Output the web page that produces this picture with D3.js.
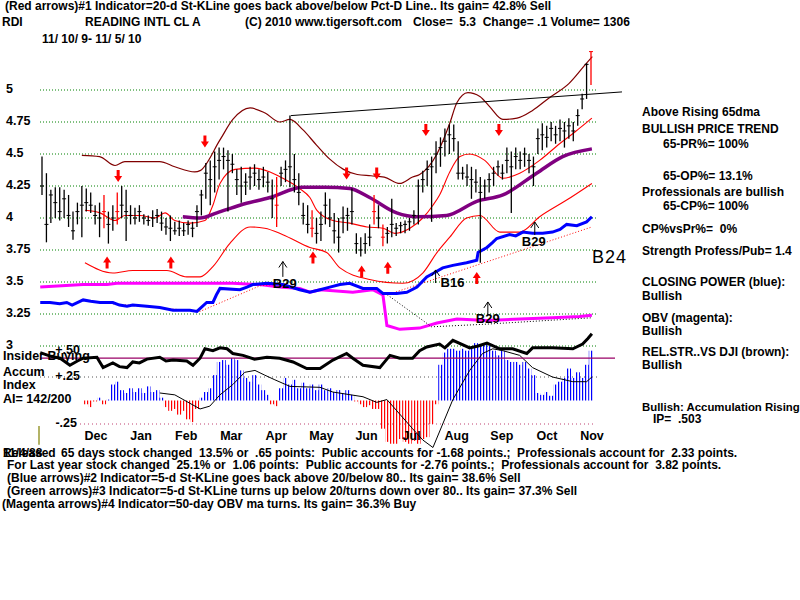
<!DOCTYPE html>
<html lang="en">
<head>
<meta charset="UTF-8">
<title>RDI - Reading Intl CL A</title>
<script src="https://d3js.org/d3.v7.min.js"></script>
<style>
  body { margin: 0; background: #fff; }
  svg text { font-family: "Liberation Sans", Arial, sans-serif; font-weight: bold; font-size: 12px; fill: #000; white-space: pre; }
</style>
</head>
<body>
<svg id="chart" width="800" height="600"></svg>
<script>
// ---- price bars (one bar every ~2 trading days, 11/10/09 - 11/5/10) ----
const barHigh = [
  4.48, 4.35, 4.22, 4.24, 4.24, 4.22, 4.18, 4.05, 4.12, 4.25,
  4.23, 4.20, 4.10, 4.12, 4.18, 4.05, 4.10, 4.20, 4.25, 4.22,
  4.10, 4.08, 4.10, 4.03, 4.02, 4.06, 4.07, 4.05, 4.00, 4.02,
  3.97, 3.98, 3.96, 3.98, 3.97, 4.10, 4.22, 4.43, 4.45, 4.52,
  4.55, 4.55, 4.53, 4.50, 4.38, 4.40, 4.35, 4.40, 4.42, 4.38,
  4.40, 4.36, 4.30, 4.32, 4.40, 4.45, 4.80, 4.50, 4.35, 4.12,
  4.10, 4.06, 4.00, 4.05, 4.20, 4.15, 4.04, 4.00, 4.09, 4.08,
  4.23, 3.88, 3.85, 3.88, 3.95, 4.18, 4.10, 3.95, 3.93, 4.15,
  3.96, 3.97, 3.98, 4.00, 4.06, 4.30, 4.37, 4.45, 4.48, 4.60,
  4.63, 4.70, 4.73, 4.73, 4.60, 4.40, 4.42, 4.40, 4.38, 4.32,
  4.30, 4.35, 4.40, 4.45, 4.42, 4.55, 4.52, 4.55, 4.52, 4.55,
  4.50, 4.48, 4.70, 4.74, 4.72, 4.75, 4.72, 4.77, 4.75, 4.78,
  4.75, 4.85, 4.97, 5.21, 5.30
];
const barLow = [
  4.18, 3.81, 3.96, 4.00, 3.98, 4.00, 3.93, 3.83, 3.95, 3.85,
  4.05, 4.04, 3.95, 3.85, 3.92, 3.80, 3.90, 3.95, 4.00, 3.82,
  3.95, 3.95, 3.97, 3.95, 3.94, 3.93, 3.96, 3.90, 3.87, 3.82,
  3.87, 3.86, 3.86, 3.87, 3.85, 3.93, 4.02, 4.15, 4.10, 4.20,
  4.30, 4.38, 4.05, 4.35, 4.18, 4.12, 4.18, 4.22, 4.25, 4.22,
  4.24, 4.20, 4.00, 3.93, 4.25, 4.28, 4.24, 4.20, 4.10, 3.95,
  3.88, 3.85, 3.80, 3.82, 3.95, 3.93, 3.80, 3.73, 3.88, 3.90,
  3.95, 3.72, 3.70, 3.72, 3.78, 3.95, 3.92, 3.78, 3.80, 3.85,
  3.86, 3.88, 3.88, 3.90, 3.95, 3.95, 4.20, 4.25, 3.97, 4.35,
  4.40, 4.48, 4.50, 4.52, 4.30, 4.30, 4.25, 4.15, 4.20, 3.65,
  4.15, 4.20, 4.25, 4.33, 4.30, 4.35, 4.04, 4.38, 4.38, 4.40,
  4.35, 4.25, 4.50, 4.53, 4.55, 4.60, 4.58, 4.60, 4.55, 4.62,
  4.60, 4.72, 4.85, 4.93, 5.04
];
const barClose = [
  4.25, 3.95, 4.18, 4.12, 4.05, 4.15, 4.02, 3.90, 4.05, 4.10,
  4.12, 4.10, 4.02, 4.00, 4.05, 3.95, 4.00, 4.05, 4.10, 4.05,
  4.02, 4.00, 4.05, 4.00, 3.98, 4.00, 4.02, 3.96, 3.93, 3.92,
  3.90, 3.92, 3.90, 3.95, 3.92, 4.05, 4.18, 4.35, 4.30, 4.40,
  4.45, 4.48, 4.45, 4.42, 4.30, 4.25, 4.28, 4.32, 4.35, 4.30,
  4.32, 4.28, 4.15, 4.10, 4.35, 4.38, 4.40, 4.30, 4.20, 4.02,
  3.95, 3.92, 3.88, 3.95, 4.10, 4.00, 3.90, 3.85, 4.00, 4.02,
  4.05, 3.80, 3.75, 3.80, 3.85, 4.05, 4.00, 3.85, 3.88, 3.95,
  3.92, 3.94, 3.95, 3.97, 4.02, 4.25, 4.30, 4.38, 4.40, 4.50,
  4.55, 4.60, 4.65, 4.62, 4.35, 4.35, 4.32, 4.30, 4.28, 4.20,
  4.25, 4.30, 4.35, 4.40, 4.35, 4.45, 4.40, 4.48, 4.45, 4.50,
  4.45, 4.40, 4.62, 4.65, 4.63, 4.70, 4.65, 4.70, 4.68, 4.72,
  4.68, 4.80, 4.93, 5.20, 5.30
];
const redBars = [14, 17, 53, 61, 75, 77, 124];

// ---- accumulation index histogram (null = not yet computed) ----
const aiValues = [
  null, null, null, null, null, null, null, null, null, null,
  -0.04, -0.07, -0.01, 0.03, -0.04, 0.01, 0.17, 0.20, 0.11, 0.08,
  0.13, 0.09, 0.13, 0.08, 0.15, 0.09, 0.11, 0.03, -0.07, -0.11,
  -0.09, -0.15, -0.11, -0.20, -0.23, -0.09, 0.03, 0.09, 0.13, 0.27,
  0.41, 0.43, 0.38, 0.45, 0.43, 0.32, 0.24, 0.20, 0.27, 0.17,
  0.11, 0.06, -0.04, -0.06, 0.13, 0.24, 0.17, 0.22, 0.13, 0.19,
  0.13, 0.17, 0.11, 0.17, 0.11, 0.13, 0.09, 0.11, 0.08, 0.11,
  0.06, -0.01, -0.04, -0.07, -0.05, -0.09, -0.09, -0.30, -0.44, -0.46,
  -0.46, -0.41, -0.44, -0.46, -0.43, -0.46, -0.41, -0.39, -0.25, -0.04,
  0.38, 0.51, 0.55, 0.55, 0.53, 0.55, 0.53, 0.58, 0.61, 0.58,
  0.61, 0.58, 0.53, 0.48, 0.53, 0.43, 0.41, 0.41, 0.38, 0.41,
  0.34, 0.27, 0.08, 0.06, 0.09, 0.05, 0.17, 0.20, 0.24, 0.34,
  0.24, 0.30, 0.24, 0.38, 0.53
];

const priceTicks = [5, 4.75, 4.5, 4.25, 4, 3.75, 3.5, 3.25, 3];
const aiTicks = [0.5, 0.25, -0.25];
const aiTickLabels = ['+.50', '+.25', '-.25'];
const monthLabels = ['Dec', 'Jan', 'Feb', 'Mar', 'Apr', 'May', 'Jun', 'Jul', 'Aug', 'Sep', 'Oct', 'Nov'];

// ---- overlay lines: [bar index, value] ----
const bandUpper = [[9, 4.49], [13, 4.48], [16.5, 4.41], [18.7, 4.44], [26.6, 4.44], [30, 4.40], [34.5, 4.36],
  [35.7, 4.37], [40.2, 4.61], [43.1, 4.77], [47, 4.86], [50.4, 4.82], [53.7, 4.75], [56, 4.77], [58.9, 4.69],
  [62, 4.57], [65, 4.46], [68.1, 4.38], [71.2, 4.34], [74.3, 4.33], [77.3, 4.32], [80.8, 4.27], [83.7, 4.32],
  [85.3, 4.34], [89.2, 4.50], [92.1, 4.74], [93.7, 4.90], [96.2, 4.98], [98.9, 4.95], [101.1, 4.87], [104.1, 4.77],
  [107.3, 4.78], [110.8, 4.84], [114.6, 4.94], [119, 5.05], [123, 5.21], [124.3, 5.26]];
const bandMid = [[9.7, 4.06], [13.1, 4.04], [16.5, 3.98], [18.7, 4.02], [22.1, 4.02], [25.5, 4.0], [27.8, 4.04],
  [30, 3.98], [33.4, 3.96], [36.8, 3.98], [38.6, 4.10], [40.2, 4.27], [43.6, 4.38], [48.1, 4.39], [51.5, 4.36],
  [54.4, 4.31], [58.2, 4.23], [60.5, 4.16], [62.1, 4.06], [65.7, 3.98], [69.5, 3.96], [73.4, 3.93], [77, 3.92],
  [79.7, 3.88], [83.1, 3.92], [86, 4.0], [88.3, 4.10], [89.8, 4.18], [92.1, 4.36], [94.4, 4.48], [96.6, 4.50],
  [100, 4.45], [104.1, 4.31], [107.9, 4.35], [112.4, 4.45], [116.9, 4.58], [120.3, 4.67], [124.2, 4.78]];
const bandLower = [[9.7, 3.65], [16, 3.57], [20.5, 3.59], [28.2, 3.59], [32.7, 3.54], [35.7, 3.54], [38.6, 3.62],
  [42.4, 3.80], [47, 3.93], [50.3, 3.92], [54.4, 3.87], [60.5, 3.77], [64.3, 3.73], [67.3, 3.61], [74, 3.52],
  [81.5, 3.49], [86, 3.57], [89.2, 3.73], [92.1, 3.85], [95.9, 4.0], [98.9, 4.02], [103.4, 3.89], [107.9, 3.89],
  [112.4, 4.01], [118.5, 4.14], [124.2, 4.27]];
const ma65 = [[31.8, 4.01], [35.7, 4.0], [39.5, 4.04], [44.7, 4.10], [51.5, 4.16], [58.9, 4.24], [64, 4.24],
  [69.5, 4.23], [74, 4.16], [80.1, 4.04], [84.7, 4.01], [91.4, 4.02], [98.2, 4.13], [104.1, 4.18], [111.7, 4.35],
  [117.6, 4.48], [124.2, 4.54]];
const closingPower = [[-0.4, 3.34], [1.8, 3.34], [4, 3.33], [5.6, 3.34], [6.8, 3.32], [9.3, 3.36], [11, 3.35],
  [13.1, 3.34], [16, 3.34], [17.5, 3.32], [19.2, 3.31], [20.5, 3.32], [23.7, 3.31], [26.6, 3.30], [29.6, 3.28],
  [33.4, 3.28], [35, 3.27], [37.2, 3.34], [38.6, 3.34], [39.4, 3.40], [40.2, 3.45], [44.7, 3.44], [46.3, 3.46],
  [47.6, 3.48], [50.8, 3.49], [54.4, 3.48], [58.2, 3.44], [60.5, 3.42], [62.8, 3.44], [65, 3.46], [67.3, 3.48],
  [69.5, 3.49], [72.5, 3.45], [75.6, 3.45], [77, 3.41], [80.1, 3.41], [82.4, 3.42], [84.7, 3.46], [86.9, 3.54],
  [88.5, 3.57], [90.5, 3.61], [92.8, 3.63], [95.9, 3.65], [98.2, 3.67], [98.5, 3.73], [100.5, 3.77], [101.8, 3.81],
  [102.7, 3.84], [105.6, 3.87], [107, 3.86], [108.6, 3.89], [110.8, 3.88], [113.1, 3.88], [115.3, 3.89],
  [117, 3.91], [118.5, 3.95], [120.8, 3.94], [123, 3.97], [124.2, 4.01]];
const obv = [[-0.4, 3.46], [9.3, 3.48], [14.7, 3.48], [16.9, 3.49], [28.2, 3.49], [35.7, 3.49], [43.1, 3.49],
  [49.2, 3.48], [53.7, 3.46], [58.2, 3.45], [60.5, 3.42], [62.8, 3.44], [70.2, 3.42], [74.7, 3.44], [77, 3.40],
  [77.9, 3.16], [80.8, 3.13], [85.3, 3.14], [89.2, 3.18], [93.7, 3.21], [100.5, 3.20], [108, 3.21],
  [115.3, 3.22], [121.4, 3.23], [124.2, 3.24]];
const cpTrendA = [[16, 3.33], [35.7, 3.27], [49.2, 3.47], [56, 3.49]];
const cpTrendB = [[78, 3.40], [124.2, 3.93]];
const obvTrend = [[78, 3.40], [88, 3.15], [100, 3.17], [124, 3.22]];
const resistance = [[56.2, 4.80], [131, 4.985]];

// ---- lower panel lines ----
const relStr = [[-0.4, 0.51], [2, 0.47], [4.1, 0.45], [6.3, 0.375], [8, 0.42], [9.3, 0.45], [12.4, 0.46],
  [13.8, 0.35], [16, 0.40], [17.5, 0.36], [19.2, 0.35], [20.5, 0.41], [22, 0.40], [23.7, 0.44], [26.6, 0.46],
  [28, 0.42], [29.6, 0.43], [32.7, 0.42], [34.1, 0.375], [35.7, 0.45], [36.8, 0.55], [38.6, 0.53], [40.2, 0.56],
  [41.8, 0.55], [43.1, 0.50], [45.4, 0.48], [48, 0.44], [50.8, 0.46], [53.7, 0.45], [56.7, 0.41], [59.8, 0.34],
  [62.8, 0.34], [65.7, 0.43], [68.8, 0.50], [70.2, 0.45], [72.5, 0.375], [76.3, 0.35], [78.6, 0.48], [80.8, 0.45],
  [83.7, 0.45], [85.3, 0.53], [86.9, 0.57], [89.8, 0.60], [91, 0.56], [92.8, 0.64], [96.6, 0.56], [98.5, 0.58],
  [100.5, 0.61], [103.4, 0.55], [106.3, 0.55], [109.5, 0.50], [110.8, 0.56], [115.3, 0.56], [119.9, 0.55],
  [122.1, 0.60], [123.3, 0.66], [124.2, 0.71]];
const aiAverage = [[26.6, 0.08], [30, 0.06], [35.7, -0.09], [37.9, -0.06], [40.2, 0.06], [43.1, 0.17], [45.8, 0.30],
  [48.1, 0.32], [50.3, 0.27], [52.6, 0.22], [56, 0.15], [62.8, 0.14], [65.7, 0.09], [72.5, 0.04], [75.6, -0.02],
  [77.9, 0.01], [83.7, -0.30], [86, -0.42], [88.3, -0.50], [92.8, 0.01], [96.6, 0.32], [99.5, 0.50], [101.8, 0.55],
  [104.1, 0.53], [107.9, 0.48], [110.8, 0.35], [115.3, 0.25], [119.9, 0.20], [123, 0.20], [124.2, 0.25]];
const insiderLevel = 0.45;

// ---- signals ----
const sellArrows = [[17.2, 4.32], [36.8, 4.59], [68.8, 4.34], [75.6, 4.34], [86.7, 4.68], [103.2, 4.68]];
const buyArrows = [[14.7, 3.66], [29.1, 3.66], [61.2, 3.70], [72.2, 3.59], [78.1, 3.62], [98.2, 3.54]];
const bSignals = [
  { i: 54.4, tip: 3.66, base: 3.54, label: 'B29', at: 3.477 },
  { i: 88.9, tip: 3.594, base: 3.492, label: 'B16', at: 3.484 },
  { i: 100.7, tip: 3.344, base: 3.242, label: 'B29', at: 3.203 },
  { i: 111.3, tip: 3.969, base: 3.867, label: 'B29', at: 3.805 }
];
const bSignalOffsets = [-10, 5, -12, -13];

// ---- texts ----
const headerLine = '(Red arrows)#1 Indicator=20-d St-KLine goes back above/below Pct-D Line.. Its gain= 42.8% Sell';
const headerParts = ['RDI', 'READING INTL CL A', '(C) 2010 www.tigersoft.com', 'Close=  5.3  Change= .1 Volume= 1306'];
const dateRange = '11/ 10/ 9- 11/ 5/ 10';
const statusLines = ['Above Rising 65dma', 'BULLISH PRICE TREND', '65-PR%= 100%', '65-OP%= 13.1%',
  'Professionals are bullish', '65-CP%= 100%', 'CP%vsPr%=  0%', 'Strength Profess/Pub= 1.4',
  'CLOSING POWER (blue):', 'Bullish', 'OBV (magenta):', 'Bullish', 'REL.STR..VS DJI (brown):', 'Bullish',
  'Bullish: Accumulation Rising', 'IP=  .503'];
const aiLabels = ['Insider Buying', 'Accum', 'Index', 'AI= 142/200'];
const footerLines = [
  '65 days stock changed  13.5% or  .65 points:  Public accounts for -1.68 points.;  Professionals account for  2.33 points.',
  'For Last year stock changed  25.1% or  1.06 points:  Public accounts for -2.76 points.;  Professionals account for  3.82 points.',
  '(Blue arrows)#2 Indicator=5-d St-KLine goes back above 20/below 80.. Its gain= 38.6% Sell',
  '(Green arrows)#3 Indicator=5-d St-KLine turns up below 20/turns down over 80.. Its gain= 37.3% Sell',
  '(Magenta arrows)#4 Indicator=50-day OBV ma turns. Its gain= 36.3% Buy'
];

// ---- scales ----
const svg = d3.select('#chart');
const x = d3.scaleLinear().domain([0, barClose.length - 1]).range([42, 591]);
const y = d3.scaleLinear().domain([3, 5]).range([346, 90]);
const ya = d3.scaleLinear().domain([-0.25, 0.25]).range([424, 377]);
const xm = d3.scalePoint().domain(monthLabels).range([96, 592]);

const line = d3.line().x(d => x(d[0])).y(d => y(d[1]));
const smooth = d3.line().x(d => x(d[0])).y(d => y(d[1])).curve(d3.curveMonotoneX);
const lineLow = d3.line().x(d => x(d[0])).y(d => ya(d[1]));

// striped fills for the accumulation histogram
const defs = svg.append('defs');
[['stripeBlue', '#0000ff'], ['stripeRed', '#ff0000']].forEach(([id, col]) => {
  const p = defs.append('pattern').attr('id', id).attr('patternUnits', 'userSpaceOnUse')
    .attr('width', 3).attr('height', 10);
  p.append('rect').attr('x', 0).attr('y', 0).attr('width', 1.2).attr('height', 10).attr('fill', col);
});

// grid
svg.append('g').selectAll('line').data(priceTicks).join('line')
  .attr('x1', 40).attr('x2', 597)
  .attr('y1', d => y(d)).attr('y2', d => y(d))
  .attr('stroke', '#008000').attr('stroke-dasharray', '1,2');
svg.append('line').attr('x1', 40).attr('x2', 597).attr('y1', ya(0.25)).attr('y2', ya(0.25))
  .attr('stroke', '#555').attr('stroke-dasharray', '1,3');
svg.append('line').attr('x1', 80).attr('x2', 594).attr('y1', ya(-0.25)).attr('y2', ya(-0.25))
  .attr('stroke', '#c04070').attr('stroke-dasharray', '1,3');

// price labels
svg.append('g').selectAll('text').data(priceTicks).join('text')
  .attr('x', 6).attr('y', d => y(d)).attr('dominant-baseline', 'middle')
  .style('font-size', '12.5px').text(d => String(d));

// lower panel
const half = (x(1) - x(0)) / 2;
svg.append('g').selectAll('rect').data(aiValues.map((v, i) => [i, v]).filter(d => d[1] !== null)).join('rect')
  .attr('x', d => x(d[0]) - half).attr('width', half * 2)
  .attr('y', d => Math.min(ya(0), ya(d[1]))).attr('height', d => Math.abs(ya(d[1]) - ya(0)))
  .attr('fill', d => d[1] >= 0 ? 'url(#stripeBlue)' : 'url(#stripeRed)');
svg.append('path').attr('d', lineLow(aiAverage)).attr('fill', 'none').attr('stroke', '#000').attr('stroke-width', 1);
svg.append('line').attr('x1', 40).attr('x2', 615).attr('y1', ya(insiderLevel)).attr('y2', ya(insiderLevel))
  .attr('stroke', '#990066').attr('stroke-width', 1.3);

svg.append('g').selectAll('text').data(aiLabels).join('text')
  .attr('x', 3).attr('y', (d, i) => [357, 373, 386, 400][i]).attr('dominant-baseline', 'middle')
  .style('font-size', '12.5px').text(d => d);
svg.append('path').attr('d', lineLow(relStr)).attr('fill', 'none').attr('stroke', '#000').attr('stroke-width', 3);
svg.append('g').selectAll('text').data(aiTicks).join('text')
  .attr('x', (d, i) => i === 2 ? 77 : 80).attr('y', d => ya(d) - (d === 0.5 ? 3 : 0))
  .attr('text-anchor', 'end').attr('dominant-baseline', 'middle')
  .style('font-size', '12.5px').text((d, i) => aiTickLabels[i]);
svg.append('line').attr('x1', x(0) - 3).attr('x2', x(0) - 3).attr('y1', ya(-0.27)).attr('y2', ya(-0.47))
  .attr('stroke', '#808000').attr('stroke-width', 1.2);

// overlays in price panel
svg.append('path').attr('d', smooth(bandUpper)).attr('fill', 'none').attr('stroke', '#800000').attr('stroke-width', 1.2);
svg.append('path').attr('d', smooth(bandMid)).attr('fill', 'none').attr('stroke', '#ff0000').attr('stroke-width', 1.1);
svg.append('path').attr('d', smooth(bandLower)).attr('fill', 'none').attr('stroke', '#ff0000').attr('stroke-width', 1.1);
svg.append('path').attr('d', smooth(ma65)).attr('fill', 'none').attr('stroke', '#800080').attr('stroke-width', 3.5);
svg.append('path').attr('d', line(obv)).attr('fill', 'none').attr('stroke', '#ff00ff').attr('stroke-width', 3);
svg.append('path').attr('d', line(cpTrendA)).attr('fill', 'none').attr('stroke', '#ff0000').attr('stroke-dasharray', '1,2');
svg.append('path').attr('d', line(cpTrendB)).attr('fill', 'none').attr('stroke', '#ff0000').attr('stroke-dasharray', '1,2');
svg.append('path').attr('d', line(obvTrend)).attr('fill', 'none').attr('stroke', '#000').attr('stroke-dasharray', '1,2');
svg.append('path').attr('d', line(closingPower)).attr('fill', 'none').attr('stroke', '#0000ff').attr('stroke-width', 3);

// bars
const bars = svg.append('g');
barClose.forEach((c, i) => {
  const col = redBars.includes(i) ? '#ff0000' : '#000';
  bars.append('line').attr('x1', x(i)).attr('x2', x(i)).attr('y1', y(barHigh[i])).attr('y2', y(barLow[i]))
    .attr('stroke', col).attr('stroke-width', 1.3);
  bars.append('line').attr('x1', x(i) - 2).attr('x2', x(i) + 2).attr('y1', y(c)).attr('y2', y(c))
    .attr('stroke', col).attr('stroke-width', 1);
});

svg.append('path').attr('d', line(resistance)).attr('fill', 'none').attr('stroke', '#000').attr('stroke-width', 1);

// signal arrows
svg.append('g').selectAll('path').data(sellArrows).join('path')
  .attr('d', d => {
    const cx = x(d[0]), cy = y(d[1]);
    return `M${cx - 1.5},${cy - 7}L${cx + 1.5},${cy - 7}L${cx + 1.5},${cy - 1}L${cx + 4},${cy - 1}L${cx},${cy + 5}L${cx - 4},${cy - 1}L${cx - 1.5},${cy - 1}Z`;
  })
  .attr('fill', '#ff0000');
svg.append('g').selectAll('path').data(buyArrows).join('path')
  .attr('d', d => {
    const cx = x(d[0]), cy = y(d[1]);
    return `M${cx - 1.5},${cy + 7}L${cx + 1.5},${cy + 7}L${cx + 1.5},${cy + 1}L${cx + 4},${cy + 1}L${cx},${cy - 5}L${cx - 4},${cy + 1}L${cx - 1.5},${cy + 1}Z`;
  })
  .attr('fill', '#ff0000');

const sig = svg.append('g');
bSignals.forEach((s, k) => {
  const cx = x(s.i), tip = y(s.tip);
  sig.append('path')
    .attr('d', `M${cx - 4},${tip + 6}L${cx},${tip}L${cx + 4},${tip + 6}M${cx},${tip}L${cx},${y(s.base)}`)
    .attr('fill', 'none').attr('stroke', '#000').attr('stroke-width', 1);
  sig.append('text').attr('x', cx + bSignalOffsets[k]).attr('y', y(s.at)).attr('dominant-baseline', 'middle')
    .style('font-size', '13px').text(s.label);
});

// month axis
svg.append('g').selectAll('text').data(monthLabels).join('text')
  .attr('x', d => xm(d)).attr('y', 437).attr('text-anchor', 'middle').attr('dominant-baseline', 'middle')
  .style('font-size', '12.5px').text(d => d);

// header
svg.append('text').attr('x', 5).attr('y', 7).attr('dominant-baseline', 'middle').text(headerLine);
svg.append('g').selectAll('text').data(headerParts).join('text')
  .attr('x', (d, i) => [2, 85, 245, 413][i]).attr('y', 23).attr('dominant-baseline', 'middle').text(d => d);
svg.append('text').attr('x', 42).attr('y', 40).attr('dominant-baseline', 'middle').text(dateRange);

// status panel
const statusX = [642, 642, 663, 663, 642, 663, 642, 642, 642, 642, 642, 642, 642, 642, 642, 653];
const statusY = [113, 130, 145, 177, 193, 207, 230, 252, 283, 297, 319, 332, 353, 366, 408, 420];
svg.append('g').selectAll('text').data(statusLines).join('text')
  .attr('x', (d, i) => statusX[i]).attr('y', (d, i) => statusY[i]).attr('dominant-baseline', 'middle')
  .style('font-size', (d, i) => i === 14 ? '11.4px' : null)
  .text(d => d);
svg.append('text').attr('x', 592).attr('y', 258).attr('dominant-baseline', 'middle')
  .style('font-size', '18px').style('font-weight', 'normal').style('letter-spacing', '1px').text('B24');

// footer
svg.append('text').attr('x', 3).attr('y', 454).attr('dominant-baseline', 'middle').text('Released');
svg.append('text').attr('x', 3).attr('y', 454).attr('dominant-baseline', 'middle').text('11/4/88');
svg.append('g').selectAll('text').data(footerLines).join('text')
  .attr('x', (d, i) => [61, 7, 7, 7, 2][i]).attr('y', (d, i) => [454, 466, 479, 492, 505][i])
  .attr('dominant-baseline', 'middle').text(d => d);
</script>
</body>
</html>
